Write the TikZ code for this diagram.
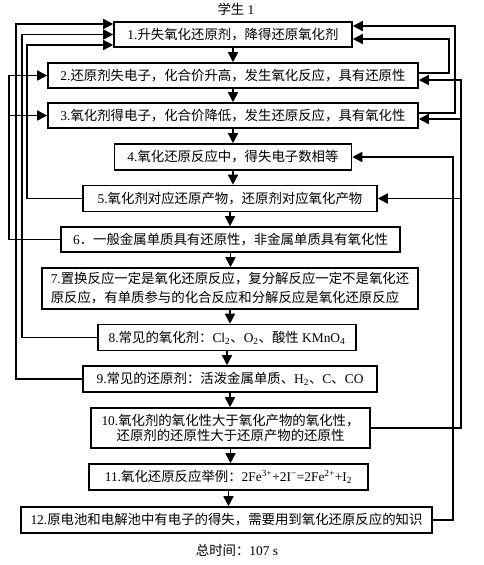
\documentclass[tikz,border=0pt]{standalone}
\usepackage{fontspec}
\setmainfont{Liberation Serif}
\newfontfamily\cjk{Noto Sans CJK SC}
\usetikzlibrary{arrows.meta}
\tikzstyle{point}=[draw, line width=1.6pt, inner sep=0pt, minimum height=25pt, align=center]
\tikzstyle{flow}=[-{Triangle[length=10pt,width=10pt]}, line width=1.6pt]
\newcommand{\zh}[1]{{\cjk #1}}

\begin{document}
\begin{tikzpicture}[x=1pt, y=-1pt, font=\fontsize{13.4}{15}\selectfont]
    \useasboundingbox (0,0) rectangle (484,565);
    \node (title) at (236,9) {\zh{学生} 1};
    \node[point, minimum width=238pt] (b1) at (233,34.5) {1.\zh{升失氧化还原剂，降得还原氧化剂}};
    \node[point, minimum width=370pt] (b2) at (233,75.5) {2.\zh{还原剂失电子，化合价升高，发生氧化反应，具有还原性}};
    \node[point, minimum width=370pt] (b3) at (233,115.5) {3.\zh{氧化剂得电子，化合价降低，发生还原反应，具有氧化性}};
    \node[point, minimum width=237pt, minimum height=26pt] (b4) at (233,157) {4.\zh{氧化还原反应中，得失电子数相等}};
    \node[point, minimum width=294pt, minimum height=26pt] (b5) at (230,198.5) {5.\zh{氧化剂对应还原产物，还原剂对应氧化产物}};
    \node[point, minimum width=339pt] (b6) at (230.5,239.5) {6\zh{．一般金属单质具有还原性，非金属单质具有氧化性}};
    \node[point, minimum width=376pt, minimum height=41pt, align=left, font=\fontsize{13.4}{19}\selectfont] (b7) at (230,288.5)
        {7.\zh{置换反应一定是氧化还原反应，复分解反应一定不是氧化还}\\\zh{原反应，有单质参与的化合反应和分解反应是氧化还原反应}};
    \node[point, minimum width=258pt, minimum height=26pt] (b8) at (227,337.5) {8.\zh{常见的氧化剂：}Cl\textsubscript{2}\zh{、}O\textsubscript{2}\zh{、酸性} KMnO\textsubscript{4}};
    \node[point, minimum width=294pt, minimum height=26pt] (b9) at (230,379) {9.\zh{常见的还原剂：活泼金属单质、}H\textsubscript{2}\zh{、}C\zh{、}CO};
    \node[point, minimum width=279pt, minimum height=40pt] (b10) at (230.5,428)
        {10.\zh{氧化剂的氧化性大于氧化产物的氧化性，}\\\zh{还原剂的还原性大于还原产物的还原性}};
    \node[point, minimum width=279pt, minimum height=26pt] (b11) at (228.5,477) {11.\zh{氧化还原反应举例：}2Fe\textsuperscript{3+}+2I\textsuperscript{−}=2Fe\textsuperscript{2+}+I\textsubscript{2}};
    \node[point, minimum width=411pt, minimum height=26pt] (b12) at (226.5,520) {12.\zh{原电池和电解池中有电子的得失，需要用到氧化还原反应的知识}};
    \node (time) at (237,550) {\zh{总时间：}107 s};
    % main chain
    \foreach \a/\b in {b1/b2, b2/b3, b3/b4, b4/b5, b5/b6, b6/b7, b7/b8, b8/b9, b9/b10, b10/b11, b11/b12}
        \draw[flow] (\a.south) -- (\a.south |- \b.north);
    % lanes
    \coordinate (l0) at (9,0);
    \coordinate (l1) at (16,0);
    \coordinate (l2) at (22,0);
    \coordinate (l3) at (27,0);
    \coordinate (r1) at (449,0);
    \coordinate (r2) at (455,0);
    \coordinate (r3) at (453,0);
    \coordinate (r4) at (461,0);
    % left side
    \draw[flow] (b9.west) -- (b9.west -| l1) -- ([yshift=10.5pt]b1.west -| l1) -- ([yshift=10.5pt]b1.west);
    \draw[flow] (b8.west) -- (b8.west -| l2) -- (b1.west -| l2) -- (b1.west);
    \draw[flow] (b5.west) -- (b5.west -| l3) -- ([yshift=-10.5pt]b1.west -| l3) -- ([yshift=-10.5pt]b1.west);
    \draw[flow] (b6.west) -- (b6.west -| l0) -- (b2.west -| l0) -- (b2.west);
    \draw[flow] (b3.west -| l0) -- (b3.west);
    % right side
    \draw[flow] ([yshift=2.5pt]b2.east) -- ([yshift=2.5pt]b2.east -| r1) -- ([yshift=-4.5pt]b1.east -| r1) -- ([yshift=-4.5pt]b1.east);
    \draw[flow] ([yshift=2.5pt]b3.east) -- ([yshift=2.5pt]b3.east -| r2) -- ([yshift=8.5pt]b1.east -| r2) -- ([yshift=8.5pt]b1.east);
    \draw[flow] (b12.east) -- (b12.east -| r3) -- (b4.east -| r3) -- (b4.east);
    \draw[flow] (b10.east) -- (b10.east -| r4) -- ([yshift=-4.5pt]b2.east -| r4) -- ([yshift=-4.5pt]b2.east);
    \draw[flow] ([yshift=-3.5pt]b3.east -| r4) -- ([yshift=-3.5pt]b3.east);
    \draw[flow] (b5.east -| r4) -- (b5.east);
\end{tikzpicture}
\end{document}
